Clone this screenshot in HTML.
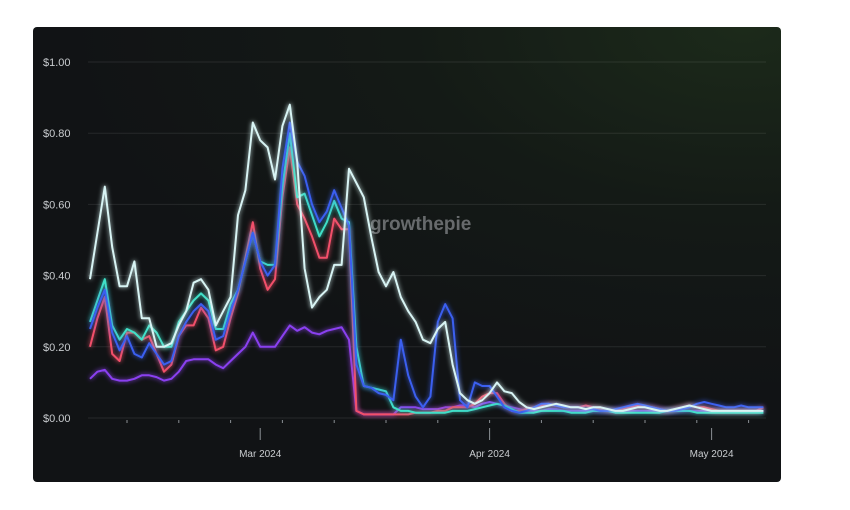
<!DOCTYPE html>
<html><head><meta charset="utf-8"><style>
html,body{margin:0;padding:0;background:#fff;width:850px;height:510px;overflow:hidden}
#panel{position:absolute;left:33px;top:27px;width:748px;height:455px;border-radius:4px;overflow:hidden;
background:radial-gradient(ellipse 90% 80% at 95% 0%,#1c2a1a 0%,#141a16 50%,#111315 100%)}
svg{position:absolute;left:0;top:0}
text{font-family:"Liberation Sans",sans-serif}
</style></head><body>
<div id="panel"></div>
<svg id="chart" width="850" height="510">
<defs><filter id="glow" x="-10%" y="-10%" width="120%" height="120%"><feGaussianBlur stdDeviation="2.5" result="b"/><feMerge><feMergeNode in="b"/><feMergeNode in="SourceGraphic"/></feMerge></filter></defs>
<g id="grid"></g><g id="wm"></g><g id="lines"></g><g id="axes"></g>
</svg>
<script>
const yTicks=[0,0.2,0.4,0.6,0.8,1.0];
const yTickLabels=["$0.00","$0.20","$0.40","$0.60","$0.80","$1.00"];
const monthLabels=["Mar 2024","Apr 2024","May 2024"];
const monthDays=[23,54,84];
const seriesWhite=[.39,.52,.65,.48,.37,.37,.44,.28,.28,.20,.20,.21,.26,.30,.38,.39,.36,.26,.30,.34,.57,.64,.83,.78,.76,.67,.82,.88,.72,.42,.31,.34,.36,.43,.43,.70,.66,.62,.51,.41,.37,.41,.34,.30,.27,.22,.21,.25,.27,.15,.07,.05,.04,.05,.07,.10,.075,.07,.045,.03,.025,.03,.035,.04,.035,.03,.03,.025,.03,.03,.025,.02,.02,.025,.03,.03,.025,.02,.02,.025,.03,.035,.03,.025,.02,.02,.02,.02,.02,.02,.02,.02];
const seriesCyan=[.27,.33,.39,.26,.22,.25,.24,.22,.26,.24,.20,.20,.27,.30,.33,.35,.33,.25,.25,.32,.36,.44,.52,.44,.43,.43,.65,.80,.62,.63,.57,.51,.55,.61,.56,.55,.20,.09,.085,.08,.075,.03,.02,.02,.015,.015,.015,.015,.015,.02,.02,.02,.025,.03,.035,.04,.035,.025,.015,.015,.015,.02,.02,.02,.02,.015,.015,.015,.02,.02,.02,.015,.015,.015,.015,.015,.015,.015,.02,.02,.02,.02,.015,.015,.015,.015,.015,.015,.015,.015,.015,.015];
const seriesBlue=[.25,.31,.36,.24,.19,.23,.18,.17,.21,.18,.15,.16,.23,.27,.30,.32,.30,.22,.23,.30,.36,.44,.52,.44,.40,.43,.70,.83,.72,.68,.60,.55,.58,.64,.59,.54,.15,.09,.085,.07,.065,.05,.22,.12,.06,.03,.06,.27,.32,.28,.05,.03,.10,.09,.09,.06,.03,.02,.015,.02,.03,.04,.04,.035,.03,.03,.03,.025,.025,.02,.02,.025,.03,.035,.04,.035,.03,.025,.02,.02,.025,.03,.04,.045,.04,.035,.03,.03,.035,.03,.03,.03];
const seriesRed=[.20,.28,.34,.18,.16,.24,.24,.22,.23,.18,.13,.15,.23,.26,.26,.31,.28,.19,.20,.28,.35,.45,.55,.42,.36,.39,.62,.76,.60,.56,.51,.45,.45,.56,.53,.53,.02,.01,.01,.01,.01,.01,.01,.01,.015,.015,.015,.02,.02,.03,.03,.03,.04,.06,.07,.07,.04,.02,.02,.025,.03,.035,.04,.035,.03,.03,.03,.035,.03,.025,.02,.02,.025,.03,.035,.03,.03,.025,.02,.025,.03,.035,.03,.03,.025,.02,.02,.02,.02,.02,.02,.03];
const seriesPurple=[.11,.13,.135,.11,.105,.105,.11,.12,.12,.115,.105,.11,.13,.16,.165,.165,.165,.15,.14,.16,.18,.20,.24,.20,.20,.20,.23,.26,.245,.255,.24,.235,.245,.25,.255,.22,.02,.01,.01,.01,.01,.01,.03,.03,.03,.025,.025,.025,.03,.03,.035,.035,.03,.04,.045,.04,.035,.03,.025,.02,.02,.02,.025,.025,.02,.02,.02,.02,.02,.02,.02,.02,.02,.02,.02,.02,.02,.02,.02,.02,.02,.02,.02,.02,.02,.02,.02,.02,.02,.02,.02,.02];
const NS="http://www.w3.org/2000/svg";
const X0=90,DX=7.4,Y0=418,YS=356;
function xS(d){return X0+DX*d;}
function yS(v){return Y0-v*YS;}
function mk(tag,attrs,parent){const e=document.createElementNS(NS,tag);for(const k in attrs)e.setAttribute(k,attrs[k]);parent.appendChild(e);return e;}
const grid=document.getElementById('grid'),axes=document.getElementById('axes'),lines=document.getElementById('lines'),wm=document.getElementById('wm');
yTicks.forEach((v,i)=>{
 const l=mk('line',{x1:88,x2:766,y1:yS(v),y2:yS(v),stroke:'#ffffff',"stroke-opacity":0.09,"stroke-width":1},grid);
 
 
 const t=mk('text',{x:43,y:yS(v)+4,fill:'#c9cccf','font-size':11},axes);
 t.textContent=yTickLabels[i];
 
 
});
for(let d=5;d<92;d+=7){
 const tk=mk('line',{x1:xS(d),x2:xS(d),y1:420,y2:423,stroke:'#8a8f94','stroke-width':1},axes);
 
 
}
monthLabels.forEach((m,i)=>{
 const tk=mk('line',{x1:xS(monthDays[i]),x2:xS(monthDays[i]),y1:428,y2:440,stroke:'#8a8f94','stroke-width':1},axes);
 
 
 const t=mk('text',{x:xS(monthDays[i]),y:457,fill:'#c9cccf','font-size':10,'text-anchor':'middle'},axes);
 t.textContent=m;
 
 
});
const w=mk('text',{x:370,y:230,fill:'#8c8f92','fill-opacity':0.7,'font-size':19,'font-weight':'bold'},wm);
w.textContent='growthepie';


const series=[[seriesPurple,'#8a3ff0','series-purple'],[seriesRed,'#f2506a','series-red'],[seriesCyan,'#3fe0c8','series-cyan'],[seriesBlue,'#3a5ff0','series-blue'],[seriesWhite,'#d8f4f4','series-white']];
series.forEach(([arr,col,name])=>{
 const pts=arr.map((v,i)=>xS(i).toFixed(1)+','+yS(v).toFixed(1)).join(' ');
 const p=mk('polyline',{points:pts,fill:'none',stroke:col,'stroke-width':2,'stroke-linejoin':'round',filter:'url(#glow)'},lines);
 
 
});
</script>
</body></html>
